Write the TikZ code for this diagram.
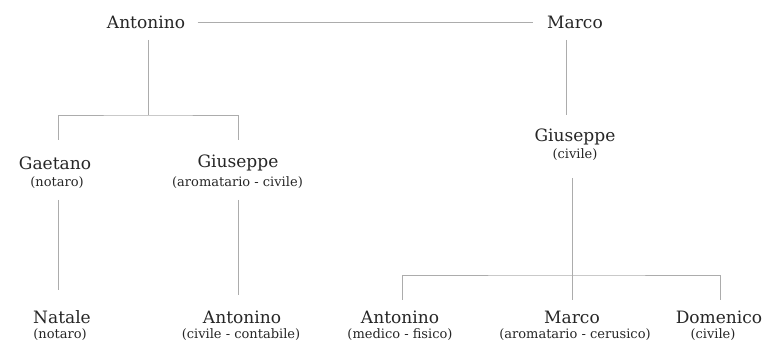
\documentclass[tikz,border=0pt]{standalone}
\usepackage{fontspec}
\setmainfont{DejaVu Serif}
\usepackage{xcolor}

\begin{document}
\begin{tikzpicture}[font=\fontsize{9.7}{12}\selectfont,text=black!85,
  person/.style={inner sep=2pt},
  role/.style={inner sep=1pt,font=\fontsize{7.4}{9}\selectfont},
  link/.style={gray!65,line width=0.55pt}]
\useasboundingbox (0,0) rectangle (15.26,6.82);
% first generation
\node[person] (antonino) at (2.92,6.38) {Antonino};
\node[person] (marco) at (11.5,6.38) {Marco};
\draw[link,shorten <=5pt,shorten >=6pt] (antonino.east) -- (marco.west);
% second generation
\node[person] (gaetano) at (1.10,3.56) {Gaetano};
\node[role] (gaetanorole) at (1.14,3.16) {(notaro)};
\node[person] (giuseppeA) at (4.76,3.56) {Giuseppe};
\node[role] (giuseppeArole) at (4.75,3.16) {(aromatario - civile)};
\node[person] (giuseppeB) at (11.5,4.08) {Giuseppe};
\node[role] (giuseppeBrole) at (11.5,3.72) {(civile)};
% third generation
\node[person] (natale) at (1.24,0.48) {Natale};
\node[role] (natalerole) at (1.20,0.12) {(notaro)};
\node[person] (antoninoA) at (4.84,0.48) {Antonino};
\node[role] (antoninoArole) at (4.82,0.12) {(civile - contabile)};
\node[person] (antoninoB) at (8.0,0.48) {Antonino};
\node[role] (antoninoBrole) at (8.0,0.12) {(medico - fisico)};
\node[person] (marcoB) at (11.44,0.48) {Marco};
\node[role] (marcoBrole) at (11.5,0.12) {(aromatario - cerusico)};
\node[person] (domenico) at (14.38,0.48) {Domenico};
\node[role] (domenicorole) at (14.26,0.12) {(civile)};
% line ends
\coordinate (antoninodown) at (2.96,6.02);
\coordinate (antoninofork) at (2.96,4.52);
\coordinate (gaetanoup) at (1.16,4.02);
\coordinate (giuseppeAup) at (4.76,4.02);
\coordinate (gaetanodown) at (1.16,2.82);
\coordinate (nataleup) at (1.16,1.02);
\coordinate (giuseppeAdown) at (4.76,2.82);
\coordinate (antoninoAup) at (4.76,0.92);
\coordinate (marcodown) at (11.32,6.02);
\coordinate (giuseppeBup) at (11.32,4.52);
\coordinate (giuseppeBdown) at (11.44,3.26);
\coordinate (giuseppeBfork) at (11.44,1.32);
\coordinate (antoninoBup) at (8.04,0.82);
\coordinate (marcoBup) at (11.44,0.82);
\coordinate (domenicoup) at (14.4,0.82);
% links
\draw[link] (antoninodown) -- (antoninofork);
\draw[link] (gaetanoup) |- (antoninofork) -| (giuseppeAup);
\draw[link] (gaetanodown) -- (nataleup);
\draw[link] (giuseppeAdown) -- (antoninoAup);
\draw[link] (marcodown) -- (giuseppeBup);
\draw[link] (giuseppeBdown) -- (marcoBup);
\draw[link] (antoninoBup) |- (giuseppeBfork) -| (domenicoup);
\end{tikzpicture}
\end{document}
